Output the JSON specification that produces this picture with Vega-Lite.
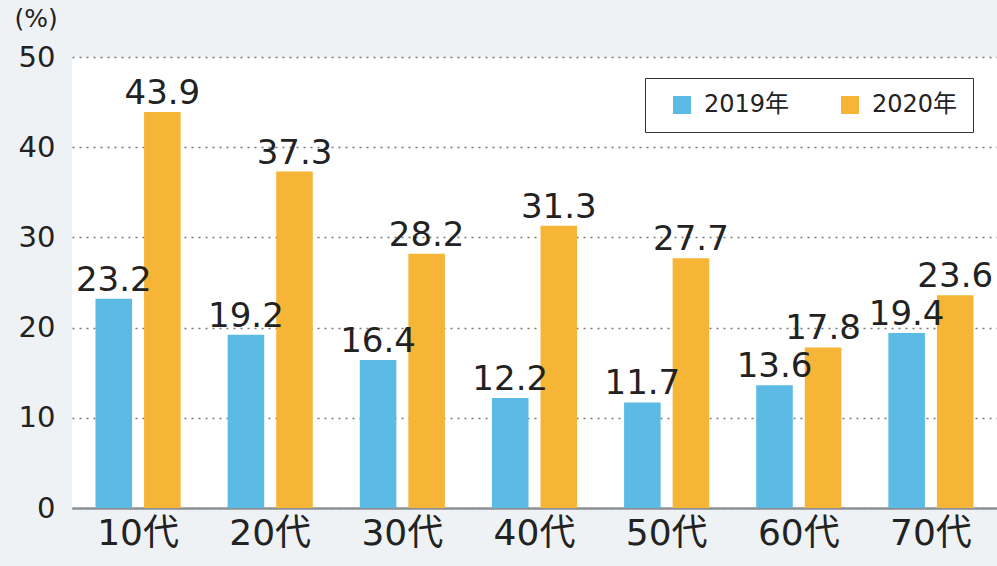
{
  "$schema": "https://vega.github.io/schema/vega-lite/v6.json",
  "width": 925,
  "height": 451,
  "autosize": {"type": "none"},
  "padding": {"left": 72, "top": 57, "right": 0, "bottom": 58},
  "background": "#eef2f5",
  "data": {
    "values": [
      {"age": "10代", "year": "2019年", "value": 23.2},
      {"age": "10代", "year": "2020年", "value": 43.9},
      {"age": "20代", "year": "2019年", "value": 19.2},
      {"age": "20代", "year": "2020年", "value": 37.3},
      {"age": "30代", "year": "2019年", "value": 16.4},
      {"age": "30代", "year": "2020年", "value": 28.2},
      {"age": "40代", "year": "2019年", "value": 12.2},
      {"age": "40代", "year": "2020年", "value": 31.3},
      {"age": "50代", "year": "2019年", "value": 11.7},
      {"age": "50代", "year": "2020年", "value": 27.7},
      {"age": "60代", "year": "2019年", "value": 13.6},
      {"age": "60代", "year": "2020年", "value": 17.8},
      {"age": "70代", "year": "2019年", "value": 19.4},
      {"age": "70代", "year": "2020年", "value": 23.6}
    ]
  },
  "encoding": {
    "x": {
      "field": "age", "type": "nominal", "sort": null,
      "scale": {"paddingInner": 0, "paddingOuter": 0},
      "axis": {
        "title": null, "labelAngle": 0, "labelFontSize": 36, "labelPadding": 8,
        "labelColor": "#222", "labelFont": "DejaVu Sans, Noto Sans CJK JP",
        "ticks": false, "domainColor": "#8c9196", "domainWidth": 2.5
      }
    },
    "xOffset": {
      "field": "year", "type": "nominal",
      "scale": {"paddingInner": 0.247, "paddingOuter": 0.484}
    },
    "y": {
      "field": "value", "type": "quantitative",
      "scale": {"domain": [0, 50]},
      "axis": {
        "values": [0, 10, 20, 30, 40, 50],
        "grid": true, "gridDash": [2, 5], "gridColor": "#777", "gridWidth": 1.5,
        "domain": false, "ticks": false,
        "labelFontSize": 29, "labelPadding": 17, "labelColor": "#222",
        "labelFont": "DejaVu Sans",
        "title": "(%)", "titleAngle": 0, "titleFontSize": 25, "titleFontWeight": "normal",
        "titleFont": "DejaVu Sans", "titleColor": "#222",
        "titleX": -58, "titleY": -51, "titleAlign": "left", "titleBaseline": "top"
      }
    }
  },
  "layer": [
    {
      "mark": {"type": "bar"},
      "encoding": {
        "color": {
          "field": "year", "type": "nominal",
          "scale": {"domain": ["2019年", "2020年"], "range": ["#5cbbe4", "#f6b536"]},
          "legend": {
            "orient": "none", "legendX": 573, "legendY": 21,
            "direction": "horizontal", "title": null,
            "symbolType": "square", "symbolSize": 324, "symbolStrokeWidth": 0,
            "labelFontSize": 24, "labelOffset": 10, "labelColor": "#222",
            "labelFont": "DejaVu Sans, Noto Sans CJK JP",
            "columnPadding": 38, "padding": 15, "symbolOffset": 10,
            "strokeColor": "#333", "fillColor": "white", "cornerRadius": 0
          }
        }
      }
    },
    {
      "mark": {
        "type": "text", "dy": -8, "baseline": "alphabetic", "align": "center",
        "fontSize": 34, "font": "DejaVu Sans", "color": "#222"
      },
      "encoding": {
        "text": {"field": "value", "type": "quantitative", "format": ".1f"}
      }
    }
  ],
  "config": {
    "view": {"fill": "white", "stroke": null}
  }
}
